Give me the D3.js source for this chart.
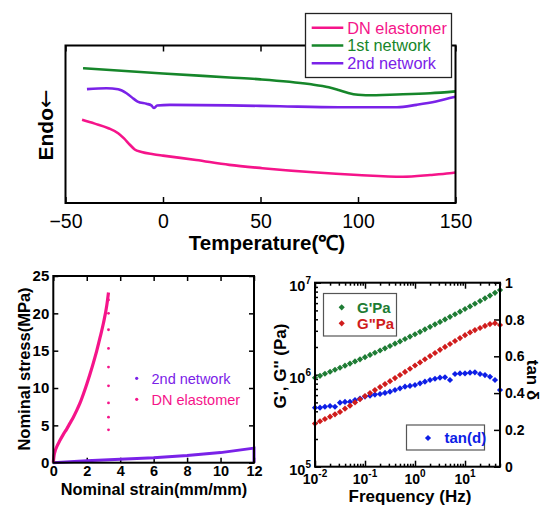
<!DOCTYPE html>
<html><head><meta charset="utf-8">
<script src="https://cdn.jsdelivr.net/npm/d3@7"></script>
<style>
body{margin:0;background:#fff}
svg text{font-family:"Liberation Sans",Arial,Helvetica,sans-serif}
</style>
</head><body>
<svg id="c" width="543" height="506"></svg>
<script>
// ---------- DSC (top) ----------
const dscTempDN = [-41.5,-35,-28,-23,-20,-17,-14.5,-11,-5,0,17,34,51,77,100,123,137,147,150];
const dscDN     = [52.8,50.4,47.5,44.3,41,37,34,32.4,31,30.1,27.3,24.2,22.1,19.5,17.8,16.7,17.8,18.9,19.4];
const dscTemp1st = [-41,0,34,50,75,85,90,95,100,104,120,137,150];
const dsc1st     = [85.6,82.2,79.7,78.5,75.5,73.5,71.8,69.9,68.7,68.4,68.9,69.7,70.9];
const dscTemp2nd = [-39,-29,-23,-18.7,-15,-13,-8.5,-6,-4.7,-3,3.5,34,60,90,120,130,140,147,150];
const dsc2nd     = [72.3,72.9,72.2,69.7,66.1,64.4,63,62,60.3,61.9,62.3,62,61.4,60.8,60.8,62.3,64.4,66.6,67.4];
const dscTicks = [-50,0,50,100,150];
const dscLegend = ["DN elastomer","1st network","2nd network"];

// ---------- Tensile (bottom left) ----------
const strainDN = [0,0.03,0.1,0.2,0.4,0.6,0.8,1.0,1.2,1.4,1.6,1.8,2.0,2.2,2.4,2.6,2.8,3.0,3.2,3.3];
const stressDN = [0,0.7,1.5,2.1,3.0,3.8,4.5,5.3,6.1,7.0,8.0,9.2,10.5,11.9,13.4,15.0,16.8,18.7,21.1,22.8];
const breakStrainDN = [3.3,3.3,3.3,3.3,3.3,3.3,3.3,3.3,3.3];
const breakStressDN = [21.8,20.0,17.8,15.3,12.8,10.3,8.0,6.1,4.4];
const strain2nd = [0,1,2,4,6,8,10,12,12];
const stress2nd = [0,0.12,0.25,0.45,0.65,0.95,1.35,1.95,0];
const tensXTicks = [0,2,4,6,8,10,12];
const tensYTicks = [0,5,10,15,20,25];

// ---------- Rheology (bottom right) ----------
const freq = [0.01,0.0126,0.0158,0.02,0.0251,0.0316,0.0398,0.0501,0.0631,0.0794,
  0.1,0.126,0.158,0.2,0.251,0.316,0.398,0.501,0.631,0.794,
  1,1.26,1.58,2,2.51,3.16,3.98,5.01,6.31,7.94,
  10,12.6,15.8,20,25.1,31.6,39.8,50.1];
const gPrime = [927000,973000,1023000,1076000,1132000,1191000,1253000,1321000,1393000,1469000,
  1552000,1641000,1734000,1832000,1936000,2051000,2173000,2301000,2443000,2594000,
  2754000,2924000,3112000,3311000,3524000,3750000,3990000,4256000,4539000,4842000,
  5176000,5521000,5902000,6324000,6761000,7244000,7762000,8318000];
const gDouble = [294000,312000,330000,350000,371000,394000,427000,461000,500000,541000,
  586000,631000,681000,733000,791000,851000,918000,993000,1072000,1161000,
  1259000,1361000,1472000,1592000,1722000,1862000,2004000,2158000,2323000,2500000,
  2692000,2884000,3055000,3221000,3388000,3548000,3631000,3467000];
const tanDelta = [0.321,0.321,0.326,0.330,0.326,0.348,0.352,0.353,0.362,0.370,
  0.381,0.386,0.392,0.395,0.401,0.408,0.417,0.426,0.435,0.439,
  0.444,0.453,0.462,0.471,0.478,0.484,0.486,0.471,0.504,0.507,
  0.507,0.511,0.513,0.504,0.498,0.489,0.471,0.417];
const freqMajor = [0.01,0.1,1,10];
const freqExp = ["-2","-1","0","1"];
const gMajor = [1e5,1e6,1e7];
const gExp = ["5","6","7"];
const tanTicks = [0,0.2,0.4,0.6,0.8,1];
const tanLabels = ["0","0.2","0.4","0.6","0.8","1"];

// colours
const PINK = "#f5148a", GREEN = "#16862a", PURPLE = "#7a22e8";
const MG = "#1e7c34", MR = "#d01c1c", MB = "#0d1ee6";

const svg = d3.select("#c");

function innerTicks(g, axis){ g.call(axis); g.select(".domain").remove(); g.selectAll(".tick line").attr("stroke","#000").attr("stroke-width",1.5); }

// ================= TOP: DSC =================
{
  const x = d3.scaleLinear().domain([-50,150]).range([65.5,455.5]);
  const y = d3.scaleLinear().domain([0,100]).range([203,45.5]);
  const g = svg.append("g");
  const bx = g.append("g").attr("transform","translate(0,203)");
  innerTicks(bx, d3.axisBottom(x).tickValues(dscTicks).tickSizeInner(-6).tickSizeOuter(0).tickPadding(11).tickFormat(d3.format("d")));
  bx.selectAll(".tick text").attr("font-size",19.5).attr("fill","#000");
  const tx = g.append("g").attr("transform","translate(0,45.5)");
  innerTicks(tx, d3.axisTop(x).tickValues(dscTicks).tickSizeInner(-6).tickSizeOuter(0).tickFormat(""));

  const line = d3.line().x(d=>x(d[0])).y(d=>y(d[1])).curve(d3.curveMonotoneX);
  const series = [
    {t:dscTemp1st, v:dsc1st, c:GREEN},
    {t:dscTemp2nd, v:dsc2nd, c:PURPLE},
    {t:dscTempDN, v:dscDN, c:PINK}
  ];
  series.forEach(s=>{
    g.append("path").attr("d", line(d3.zip(s.t,s.v))).attr("fill","none").attr("stroke",s.c).attr("stroke-width",2.6);
  });
  g.append("rect").attr("x",65.5).attr("y",45.5).attr("width",390).attr("height",157.5)
    .attr("fill","none").attr("stroke","#000").attr("stroke-width",2);

  g.append("text").attr("x",267).attr("y",250).attr("text-anchor","middle")
    .attr("font-size",20.5).attr("font-weight","bold").text("Temperature(℃)");
  const endo = g.append("text").attr("transform","translate(53,125) rotate(-90)").attr("text-anchor","middle")
    .attr("font-size",21).attr("font-weight","bold").text("Endo");
  endo.append("tspan").attr("font-family","'DejaVu Sans',sans-serif").attr("font-weight","normal")
    .attr("font-size",22).text("←");

  // legend
  const lg = g.append("g");
  lg.append("rect").attr("x",305.5).attr("y",13.5).attr("width",146).attr("height",64)
    .attr("fill","#fff").attr("stroke","#222").attr("stroke-width",1.3);
  const lcol = [PINK, GREEN, PURPLE];
  dscLegend.forEach((name,i)=>{
    const yy = 27.7 + i*17.8;
    lg.append("line").attr("x1",311.7).attr("x2",343.3).attr("y1",yy).attr("y2",yy).attr("stroke",lcol[i]).attr("stroke-width",2.6);
    lg.append("text").attr("x",347.3).attr("y",yy).attr("dy","0.36em").attr("font-size",16.3).attr("fill",lcol[i]).text(name);
  });
}

// ================= BOTTOM LEFT: tensile =================
{
  const x = d3.scaleLinear().domain([0,12]).range([53.3,254]);
  const y = d3.scaleLinear().domain([0,25]).range([462.7,276]);
  const g = svg.append("g");
  const bx = g.append("g").attr("transform","translate(0,462.7)");
  innerTicks(bx, d3.axisBottom(x).tickValues(tensXTicks).tickSizeInner(-5).tickSizeOuter(0).tickPadding(3));
  bx.selectAll(".tick text").attr("font-size",14.5).attr("font-weight","bold").attr("fill","#000");
  const tx = g.append("g").attr("transform","translate(0,276)");
  innerTicks(tx, d3.axisTop(x).tickValues(tensXTicks).tickSizeInner(-5).tickSizeOuter(0).tickFormat(""));
  const ly = g.append("g").attr("transform","translate(53.3,0)");
  innerTicks(ly, d3.axisLeft(y).tickValues(tensYTicks).tickSizeInner(-5).tickSizeOuter(0).tickPadding(4));
  ly.selectAll(".tick text").attr("font-size",15).attr("font-weight","bold").attr("fill","#000");
  const ry = g.append("g").attr("transform","translate(254,0)");
  innerTicks(ry, d3.axisRight(y).tickValues(tensYTicks).tickSizeInner(-5).tickSizeOuter(0).tickFormat(""));

  g.append("path").attr("d", d3.line().x(d=>x(d[0])).y(d=>y(d[1]))(d3.zip(strain2nd,stress2nd))).attr("fill","none")
    .attr("stroke",PURPLE).attr("stroke-width",3);
  g.append("path").attr("d", d3.line().x(d=>x(d[0])).y(d=>y(d[1])).curve(d3.curveMonotoneX)(d3.zip(strainDN,stressDN)))
    .attr("fill","none").attr("stroke",PINK).attr("stroke-width",3.2);
  g.selectAll("circle.brk").data(d3.zip(breakStrainDN,breakStressDN)).join("circle").attr("class","brk")
    .attr("cx",d=>x(d[0])).attr("cy",d=>y(d[1])).attr("r",1.4).attr("fill",PINK);

  g.append("rect").attr("x",53.3).attr("y",276).attr("width",200.7).attr("height",186.7)
    .attr("fill","none").attr("stroke","#000").attr("stroke-width",2);

  // legend
  [["2nd network",PURPLE,378.3],["DN elastomer",PINK,399.3]].forEach(([n,c,yy])=>{
    g.append("circle").attr("cx",136.7).attr("cy",yy).attr("r",1.6).attr("fill",c);
    g.append("text").attr("x",151.5).attr("y",yy).attr("dy","0.36em").attr("font-size",14.5).attr("fill",c).text(n);
  });

  g.append("text").attr("x",154).attr("y",495).attr("text-anchor","middle").attr("font-size",16.3)
    .attr("font-weight","bold").text("Nominal strain(mm/mm)");
  g.append("text").attr("transform","translate(30,369) rotate(-90)").attr("text-anchor","middle")
    .attr("font-size",16.5).attr("font-weight","bold").text("Nominal stress(MPa)");
}

// ================= BOTTOM RIGHT: rheology =================
{
  const x = d3.scaleLog().domain([0.01,50.1]).range([315,500]);
  const y = d3.scaleLog().domain([1e5,1e7]).range([466.7,282.7]);
  const yt = d3.scaleLinear().domain([0,1]).range([466.7,282.7]);
  const g = svg.append("g");

  const xMinor = x.ticks().filter(v=>!freqMajor.includes(v));
  const yMinor = y.ticks().filter(v=>!gMajor.includes(v));
  function ticks(sel, axisFn, scale, vals, size){
    innerTicks(sel, axisFn(scale).tickValues(vals).tickSizeInner(-size).tickSizeOuter(0).tickFormat(""));
  }
  ticks(g.append("g").attr("transform","translate(0,466.7)"), d3.axisBottom, x, freqMajor, 6);
  ticks(g.append("g").attr("transform","translate(0,466.7)"), d3.axisBottom, x, xMinor, 3);
  ticks(g.append("g").attr("transform","translate(0,282.7)"), d3.axisTop, x, freqMajor, 6);
  ticks(g.append("g").attr("transform","translate(0,282.7)"), d3.axisTop, x, xMinor, 3);
  ticks(g.append("g").attr("transform","translate(315,0)"), d3.axisLeft, y, gMajor, 6);
  ticks(g.append("g").attr("transform","translate(315,0)"), d3.axisLeft, y, yMinor, 3);
  ticks(g.append("g").attr("transform","translate(500,0)"), d3.axisRight, yt, tanTicks, 6);

  // labels
  freqMajor.forEach((v,i)=>{
    const t = g.append("text").attr("x",x(v)).attr("y",484).attr("text-anchor","middle")
      .attr("font-size",14).attr("font-weight","bold").text("10");
    t.append("tspan").attr("dy",-7).attr("font-size",10).text(freqExp[i]);
  });
  gMajor.forEach((v,i)=>{
    const t = g.append("text").attr("x",311).attr("y",y(v)+8).attr("text-anchor","end")
      .attr("font-size",14.5).attr("font-weight","bold").text("10");
    t.append("tspan").attr("dy",-7).attr("font-size",10).text(gExp[i]);
  });
  tanTicks.forEach((v,i)=>{
    g.append("text").attr("x",505).attr("y",yt(v)).attr("dy","0.36em")
      .attr("font-size",14).attr("font-weight","bold").text(tanLabels[i]);
  });

  const diamond = d3.symbol(d3.symbolSquare, 19)();
  function pts(vals, sc, col){
    g.append("g").selectAll("path").data(d3.zip(freq, vals)).join("path")
      .attr("d", diamond).attr("fill", col)
      .attr("transform", d=>`translate(${x(d[0])},${sc(d[1])}) rotate(45)`);
  }
  pts(tanDelta, yt, MB);
  pts(gDouble, y, MR);
  pts(gPrime, y, MG);

  g.append("rect").attr("x",315).attr("y",282.7).attr("width",185).attr("height",184)
    .attr("fill","none").attr("stroke","#000").attr("stroke-width",2);

  // legends
  g.append("rect").attr("x",323.5).attr("y",293.5).attr("width",73).attr("height",42.5)
    .attr("fill","#fff").attr("stroke","#555").attr("stroke-width",1.2);
  [["G'Pa",MG,307.3],["G\"Pa",MR,323.3]].forEach(([n,c,yy])=>{
    g.append("path").attr("d",diamond).attr("fill",c).attr("transform",`translate(341.7,${yy}) rotate(45)`);
    g.append("text").attr("x",357).attr("y",yy).attr("dy","0.36em").attr("font-size",15)
      .attr("font-weight","bold").attr("fill",c).text(n);
  });
  g.append("rect").attr("x",406.5).attr("y",425).attr("width",78).attr("height",25)
    .attr("fill","#fff").attr("stroke","#555").attr("stroke-width",1.2);
  g.append("path").attr("d",diamond).attr("fill",MB).attr("transform","translate(428,438) rotate(45)");
  g.append("text").attr("x",444.5).attr("y",438).attr("dy","0.36em").attr("font-size",15)
    .attr("font-weight","bold").attr("fill",MB).text("tan(d)");

  g.append("text").attr("x",410).attr("y",501.5).attr("text-anchor","middle").attr("font-size",17)
    .attr("font-weight","bold").text("Frequency (Hz)");
  g.append("text").attr("transform","translate(286,366) rotate(-90)").attr("text-anchor","middle")
    .attr("font-size",17).attr("font-weight","bold").text("G', G'' (Pa)");
  g.append("text").attr("transform","translate(527,380) rotate(90)").attr("text-anchor","middle")
    .attr("font-size",17).attr("font-weight","bold").text("tan δ");
}
</script>
</body></html>
